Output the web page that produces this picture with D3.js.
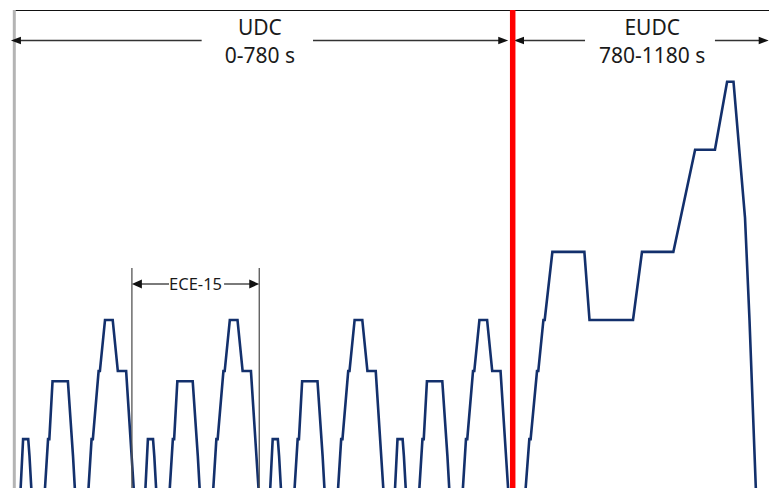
<!DOCTYPE html>
<html>
<head>
<meta charset="utf-8">
<script src="https://cdn.jsdelivr.net/npm/d3@7"></script>
<style>
  html, body { margin: 0; padding: 0; background: #fff; }
  svg { display: block; }
  text { font-family: "Noto Sans", "Liberation Sans", sans-serif; fill: #1a1a1a; }
</style>
</head>
<body>
<div id="chart"></div>
<script>
"use strict";

// NEDC speed trace, time in s, speed in km/h
const udcTime = [
  0, 11, 15, 23, 25, 28, 49, 54, 56, 61, 85, 93, 96, 117, 122, 124, 133, 135, 143, 155, 163, 176, 188,
  195, 206, 210, 218, 220, 223, 244, 249, 251, 256, 280, 288, 291, 312, 317, 319, 328, 330, 338, 350, 358, 371, 383,
  390, 401, 405, 413, 415, 418, 439, 444, 446, 451, 475, 483, 486, 507, 512, 514, 523, 525, 533, 545, 553, 566, 578,
  585, 596, 600, 608, 610, 613, 634, 639, 641, 646, 670, 678, 681, 702, 707, 709, 718, 720, 728, 740, 748, 761, 773
];
const udcSpeed = [
  0, 0, 15, 15, 10, 0, 0, 15, 15, 32, 32, 10, 0, 0, 15, 15, 35, 35, 50, 50, 35, 35, 0,
  0, 0, 15, 15, 10, 0, 0, 15, 15, 32, 32, 10, 0, 0, 15, 15, 35, 35, 50, 50, 35, 35, 0,
  0, 0, 15, 15, 10, 0, 0, 15, 15, 32, 32, 10, 0, 0, 15, 15, 35, 35, 50, 50, 35, 35, 0,
  0, 0, 15, 15, 10, 0, 0, 15, 15, 32, 32, 10, 0, 0, 15, 15, 35, 35, 50, 50, 35, 35, 0
];
const eudcTime  = [780, 800, 806, 808, 818, 820, 828, 830, 842, 892, 900, 968, 982, 1031, 1065, 1096, 1115, 1125, 1143, 1150, 1160, 1180];
const eudcSpeed = [0,   0,   15,  15,  35,  35,  50,  50,  70,  70,  50,  50,  70,  70,   100,  100,  120,  120,  80,   50,   0,    0];

// annotations (seconds)
const boundary = 780;
const spans = [
  { name: "UDC",  range: "0-780 s",    from: -4,  to: 773,  gap: [294, 468],  mid: 385 },
  { name: "EUDC", range: "780-1180 s", from: 782, to: 1180, gap: [893, 1096], mid: 998 }
];
const ece = { label: "ECE-15", from: 185, to: 384, gap: [243, 329] };

const width = 769, height = 488;

const x = d3.scaleLinear().domain([0, 1200]).range([13.5, 13.5 + 1200 * 0.64]);
const y = d3.scaleLinear().domain([0, 141]).range([490.2, 10.2]);

const svg = d3.select("#chart").append("svg")
    .attr("width", width)
    .attr("height", height);

// frame
svg.append("line")
    .attr("x1", x(0)).attr("x2", width)
    .attr("y1", 10.5).attr("y2", 10.5)
    .attr("stroke", "#111").attr("stroke-width", 1.2);
svg.append("line")
    .attr("x1", x(0) + 0.8).attr("x2", x(0) + 0.8)
    .attr("y1", 10).attr("y2", height)
    .attr("stroke", "#b4b4b4").attr("stroke-width", 3);

// speed trace
const points = udcTime.map((t, i) => [t, udcSpeed[i]])
    .concat(eudcTime.map((t, i) => [t, eudcSpeed[i]]));

const line = d3.line()
    .x(d => x(d[0]))
    .y(d => y(d[1]));

svg.append("path")
    .datum(points)
    .attr("d", line)
    .attr("fill", "none")
    .attr("stroke", "#13306c")
    .attr("stroke-width", 2.6)
    .attr("stroke-linejoin", "miter");

// arrowheads
const head = (px, py, dir, len, half) =>
  `M${px},${py} L${px - dir * len},${py - half} L${px - dir * len},${py + half} Z`;

const arrows = svg.append("g");

spans.forEach(s => {
  const ay = 40.5;
  arrows.append("line")
      .attr("x1", x(s.from) + 8).attr("x2", x(s.gap[0]))
      .attr("y1", ay).attr("y2", ay)
      .attr("stroke", "#333").attr("stroke-width", 1.3);
  arrows.append("line")
      .attr("x1", x(s.gap[1])).attr("x2", x(s.to) - 8)
      .attr("y1", ay).attr("y2", ay)
      .attr("stroke", "#333").attr("stroke-width", 1.3);
  arrows.append("path").attr("d", head(x(s.from), ay, -1, 10, 3.8)).attr("fill", "#111");
  arrows.append("path").attr("d", head(x(s.to), ay, 1, 10, 3.8)).attr("fill", "#111");
  arrows.append("text")
      .attr("x", x(s.mid)).attr("y", 35)
      .attr("text-anchor", "middle")
      .style("font-size", "21px")
      .text(s.name);
  arrows.append("text")
      .attr("x", x(s.mid)).attr("y", 63)
      .attr("text-anchor", "middle")
      .style("font-size", "21px")
      .text(s.range);
});

// ECE-15 bracket
const ey = 284;
[ece.from, ece.to].forEach(t => {
  arrows.append("line")
      .attr("x1", x(t)).attr("x2", x(t))
      .attr("y1", 268).attr("y2", height)
      .attr("stroke", "#555").attr("stroke-width", 1.3);
});
arrows.append("line")
    .attr("x1", x(ece.from) + 8).attr("x2", x(ece.gap[0]))
    .attr("y1", ey).attr("y2", ey)
    .attr("stroke", "#222").attr("stroke-width", 1.2);
arrows.append("line")
    .attr("x1", x(ece.gap[1])).attr("x2", x(ece.to) - 8)
    .attr("y1", ey).attr("y2", ey)
    .attr("stroke", "#222").attr("stroke-width", 1.2);
arrows.append("path").attr("d", head(x(ece.from), ey, -1, 10, 4.5)).attr("fill", "#111");
arrows.append("path").attr("d", head(x(ece.to), ey, 1, 10, 4.5)).attr("fill", "#111");
arrows.append("text")
    .attr("x", (x(ece.from) + x(ece.to)) / 2).attr("y", 290)
    .attr("text-anchor", "middle")
    .style("font-size", "16.5px")
    .text(ece.label);

// UDC / EUDC boundary
svg.append("line")
    .attr("x1", x(boundary)).attr("x2", x(boundary))
    .attr("y1", 10).attr("y2", height)
    .attr("stroke", "#ff0000").attr("stroke-width", 5.5);
</script>
</body>
</html>
